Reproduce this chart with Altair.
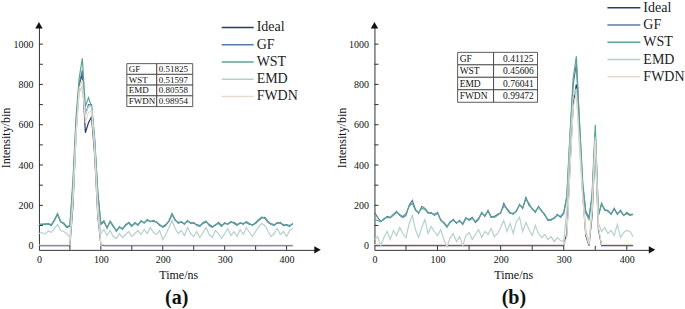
import altair as alt
import pandas as pd

SERIF = "Liberation Serif"

# ---------------- data ----------------
T = list(range(0, 415, 5))  # sample times, ns

SERIES = ["Ideal", "GF", "WST", "EMD", "FWDN"]
COLORS = ["#2e3b68", "#5a78a6", "#5ba597", "#b4d2ca", "#e6dccd"]
WIDTHS = [1.2, 1.2, 1.3, 1.7, 1.8]

# panel (a)
A_IDEAL = [0, 0, 0, 0, 0, 0, 0, 0, 0, 0,
           0, 200, 560, 800, 850, 560, 610, 640, 450, 150,
           5, 0, 0, 0, 0, 0, 0, 0, 0, 0,
           0, 0, 0, 0, 0, 0, 0, 0, 0, 0,
           0, 0, 0, 0, 0, 0, 0, 0, 0, 0,
           0, 0, 0, 0, 0, 0, 0, 0, 0, 0,
           0, 0, 0, 0, 0, 0, 0, 0, 0, 0,
           0, 0, 0, 0, 0, 0, 0, 0, 0, 0,
           0, 0, 0]
A_GF = [100, 104, 108, 106, 100, 125, 155, 118, 108, 90,
        96, 300, 610, 800, 870, 650, 700, 700, 530, 270,
        105, 118, 90, 118, 96, 75, 90, 85, 100, 115,
        100, 110, 105, 120, 115, 125, 122, 120, 118, 100,
        95, 105, 120, 155, 125, 115, 115, 110, 120, 115,
        110, 105, 100, 110, 118, 105, 95, 100, 115, 100,
        110, 108, 115, 115, 105, 110, 110, 115, 105, 104,
        110, 125, 138, 140, 120, 108, 105, 110, 115, 100,
        104, 100, 106]
A_WST = [105, 108, 104, 110, 103, 130, 160, 120, 112, 95,
         100, 330, 640, 830, 930, 690, 735, 690, 520, 260,
         110, 125, 85, 122, 100, 70, 95, 80, 105, 112,
         95, 115, 100, 125, 110, 130, 118, 126, 115, 105,
         90, 100, 125, 160, 130, 110, 120, 105, 125, 110,
         115, 100, 95, 115, 122, 100, 90, 105, 110, 95,
         115, 105, 120, 110, 100, 115, 105, 120, 110, 100,
         115, 130, 142, 135, 115, 105, 100, 115, 110, 105,
         100, 95, 112]
A_EMD = [60, 65, 58, 72, 66, 85, 105, 75, 70, 60,
         40, 260, 560, 760, 790, 650, 690, 690, 500, 200,
         60, 80, 50, 75, 45, 35, 60, 40, 55, 70,
         45, 60, 75, 55, 80, 60, 90, 65, 55, 75,
         30, 55, 90, 125, 85, 60, 75, 50, 90, 60,
         45, 70, 40, 65, 90, 55, 40, 75, 60, 35,
         60, 85, 50, 70, 45, 80, 55, 90, 65, 45,
         70, 95, 110, 100, 70, 45, 60, 85, 55, 70,
         45, 75, 85]
A_FWDN = [3, 3, 3, 3, 3, 3, 3, 3, 3, 3,
          3, 220, 560, 780, 820, 610, 660, 670, 470, 160,
          8, 3, 3, 3, 3, 3, 3, 3, 3, 3,
          3, 3, 3, 3, 3, 3, 3, 3, 3, 3,
          3, 3, 3, 3, 3, 3, 3, 3, 3, 3,
          3, 3, 3, 3, 3, 3, 3, 3, 3, 3,
          3, 3, 3, 3, 3, 3, 3, 3, 3, 3,
          3, 3, 3, 3, 3, 3, 3, 3, 3, 3,
          3, 3, 3]

# panel (b)
B_IDEAL = [0, 0, 0, 0, 0, 0, 0, 0, 0, 0,
           0, 0, 0, 0, 0, 0, 0, 0, 0, 0,
           0, 0, 0, 0, 0, 0, 0, 0, 0, 0,
           0, 0, 0, 0, 0, 0, 0, 0, 0, 0,
           0, 0, 0, 0, 0, 0, 0, 0, 0, 0,
           0, 0, 0, 0, 0, 0, 0, 0, 0, 0,
           0, 60, 400, 700, 800, 560, 260, 50, 0, 150,
           500, 80, 0, 0, 0, 0, 0, 0, 0, 0,
           0, 0, 0]
B_GF = [165, 140, 120, 130, 145, 140, 155, 170, 150, 140,
        150, 200, 225, 180, 160, 195, 185, 165, 160, 155,
        165, 125, 115, 95, 115, 130, 110, 125, 105, 135,
        130, 140, 115, 130, 165, 145, 175, 140, 145, 155,
        160, 210, 180, 160, 160, 170, 205, 185, 240, 200,
        185, 165, 195, 170, 155, 125, 130, 135, 155, 140,
        160, 240, 540, 800, 900, 600, 300, 170, 140, 240,
        560, 150, 210, 175, 175, 155, 185, 155, 175, 150,
        160, 150, 155]
B_WST = [130, 125, 118, 135, 140, 138, 150, 165, 155, 145,
         160, 195, 210, 175, 165, 185, 180, 160, 165, 150,
         160, 130, 110, 90, 120, 125, 115, 120, 110, 140,
         125, 135, 120, 135, 160, 150, 170, 145, 140, 150,
         165, 195, 185, 165, 155, 175, 200, 190, 230, 210,
         180, 170, 190, 175, 150, 130, 125, 140, 150, 145,
         165, 250, 560, 830, 940, 620, 320, 160, 130, 260,
         600, 150, 205, 180, 170, 160, 180, 160, 170, 150,
         165, 155, 155]
B_EMD = [30, 45, 0, 40, 70, 30, 75, 50, 90, 60,
         40, 110, 150, 80, 40, 90, 130, 60, 95, 70,
         50, 80, 30, -5, 40, 60, 20, 45, 0, 50,
         65, 30, 55, 80, 40, 70, 55, 85, 45, 60,
         90, 125, 70, 110, 60, 120, 140, 70, 115, 80,
         50, 100, 60, 40, 55, 30, 45, 20, 40, 25,
         20, 180, 520, 740, 780, 480, 250, 80, 10, 200,
         540, 110, 70, 90, 60, 75, 50, 105, 40, 65,
         75, 70, 45]
B_FWDN = [5, 5, 5, 5, 5, 5, 5, 5, 5, 5,
          5, 5, 5, 5, 5, 5, 5, 5, 5, 5,
          5, 5, 5, 5, 5, 5, 5, 5, 5, 5,
          5, 5, 5, 5, 5, 5, 5, 5, 5, 5,
          5, 5, 5, 5, 5, 5, 5, 5, 5, 5,
          5, 5, 5, 5, 5, 5, 5, 5, 5, 5,
          5, 40, 380, 680, 760, 520, 240, 60, 5, 170,
          520, 90, 5, 5, 5, 5, 5, 5, 5, 5,
          5, 5, 5]

TABLE_NAMES = ["GF", "WST", "EMD", "FWDN"]
TABLE_A = ["0.51825", "0.51597", "0.80558", "0.98954"]
TABLE_B = ["0.41125", "0.45606", "0.76041", "0.99472"]

X_LABELS = [0, 100, 200, 300, 400]
Y_LABELS = [0, 200, 400, 600, 800, 1000]
X_MINOR = [50, 100, 150, 200, 250, 300, 350, 400]
Y_MINOR = [100, 200, 300, 400, 500, 600, 700, 800, 900, 1000]

CAPTIONS = ["(a)", "(b)"]

# ---------------- layout constants ----------------
YDOM = [-21, 1094]
H = 225


def build_panel(series_vals, xdom, W, tvals, tab, leg, caption, cap_xy):
    def px2t(px):
        return xdom[0] + px / W * (xdom[1] - xdom[0])

    def py2v(py):
        return YDOM[1] - py / H * (YDOM[1] - YDOM[0])

    rows = []
    for name, vals in zip(SERIES, series_vals):
        for t, v in zip(T, vals):
            rows.append({"t": t, "v": v, "s": name})
    df = pd.DataFrame(rows)

    xs = alt.Scale(domain=xdom, nice=False, zero=False)
    ys = alt.Scale(domain=YDOM, nice=False, zero=False)
    cs = alt.Scale(domain=SERIES, range=COLORS)
    ws = alt.Scale(domain=SERIES, range=WIDTHS)

    xaxis = alt.Axis(values=X_LABELS, format="d", title="Time/ns", titleFont=SERIF,
                     titleFontSize=12, titleFontWeight="normal", titleColor="#111",
                     labelFont=SERIF, labelFontSize=10, labelColor="#111", ticks=False,
                     tickSize=0, labelPadding=5, titlePadding=5, domainColor="#333",
                     grid=False, labelFlush=False)
    yaxis = alt.Axis(values=Y_LABELS, format="d", title="Intensity/bin", titleFont=SERIF,
                     titleFontSize=12, titleFontWeight="normal", titleColor="#111",
                     labelFont=SERIF, labelFontSize=10, labelColor="#111", ticks=False,
                     tickSize=0, labelPadding=6, titlePadding=0, domainColor="#333",
                     grid=False)

    def X(f):
        return alt.X(f, scale=xs, axis=xaxis)

    def Y(f):
        return alt.Y(f, scale=ys, axis=yaxis)

    lines = alt.Chart(df).mark_line(interpolate="linear").encode(
        x=X("t:Q"),
        y=Y("v:Q"),
        color=alt.Color("s:N", scale=cs, legend=None, sort=SERIES),
        strokeWidth=alt.StrokeWidth("s:N", scale=ws, legend=None),
        order=alt.Order("t:Q"),
    )

    # inward minor ticks
    xt = pd.DataFrame({"t": X_MINOR, "y0": YDOM[0], "y1": py2v(H - 4)})
    xticks = alt.Chart(xt).mark_rule(color="#333", strokeWidth=1).encode(
        x=X("t:Q"), y=Y("y0:Q"), y2="y1:Q")
    yt = pd.DataFrame({"v": Y_MINOR, "x0": xdom[0], "x1": px2t(4)})
    yticks = alt.Chart(yt).mark_rule(color="#333", strokeWidth=1).encode(
        y=Y("v:Q"), x=X("x0:Q"), x2="x1:Q")

    # axis arrows
    arr_r = alt.Chart(pd.DataFrame({"t": [xdom[1]], "v": [YDOM[0]]})).mark_point(
        shape="triangle-right", filled=True, size=55, color="#111", opacity=1).encode(
        x=X("t:Q"), y=Y("v:Q"))
    arr_u = alt.Chart(pd.DataFrame({"t": [xdom[0]], "v": [YDOM[1]]})).mark_point(
        shape="triangle-up", filled=True, size=55, color="#111", opacity=1).encode(
        x=X("t:Q"), y=Y("v:Q"))

    # table
    x0, xsplit, x1, ytop, rh, vx, tfs = tab
    cells = []
    texts = []
    for i, (n, val) in enumerate(zip(TABLE_NAMES, tvals)):
        yt0 = ytop + i * rh
        yt1 = yt0 + rh
        cells.append({"a": px2t(x0), "b": px2t(xsplit), "c": py2v(yt0), "d": py2v(yt1)})
        cells.append({"a": px2t(xsplit), "b": px2t(x1), "c": py2v(yt0), "d": py2v(yt1)})
        texts.append({"t": px2t(x0 + 2), "v": py2v(yt0 + rh / 2), "txt": n})
        texts.append({"t": px2t(xsplit + vx), "v": py2v(yt0 + rh / 2), "txt": val})
    rect = alt.Chart(pd.DataFrame(cells)).mark_rect(
        fill="white", stroke="#333", strokeWidth=0.8).encode(
        x=X("a:Q"), x2="b:Q", y=Y("c:Q"), y2="d:Q")
    ttext = alt.Chart(pd.DataFrame(texts)).mark_text(
        font=SERIF, fontSize=tfs, align="left", baseline="middle", color="#111").encode(
        x=X("t:Q"), y=Y("v:Q"), text="txt:N")

    # legend
    lx0, lx1, ltx, ly0, lstep = leg
    lrows = []
    for i, n in enumerate(SERIES):
        yy = py2v(ly0 + i * lstep)
        lrows.append({"s": n, "a": px2t(lx0), "b": px2t(lx1), "tx": px2t(ltx), "v": yy})
    ldf = pd.DataFrame(lrows)
    lrule = alt.Chart(ldf).mark_rule(strokeWidth=1.5).encode(
        x=X("a:Q"), x2="b:Q", y=Y("v:Q"),
        color=alt.Color("s:N", scale=cs, legend=None))
    ltext = alt.Chart(ldf).mark_text(font=SERIF, fontSize=14, align="left",
                                      baseline="middle", color="#222").encode(
        x=X("tx:Q"), y=Y("v:Q"), text="s:N")

    cap = alt.Chart(pd.DataFrame({"c": [caption]})).mark_text(
        font=SERIF, fontSize=20, fontWeight="bold", color="#111", baseline="middle").encode(
        x=alt.value(cap_xy[0]), y=alt.value(cap_xy[1]), text="c:N")

    return alt.layer(lines, xticks, yticks, arr_r, arr_u, rect, ttext, lrule, ltext, cap).properties(
        width=W, height=H)


left = build_panel([A_IDEAL, A_GF, A_WST, A_EMD, A_FWDN], [0, 450], 279, TABLE_A,
                   (88, 118, 154, 38.5, 10.75, 2, 9),
                   (183, 215, 218, 2.2, 17.3), CAPTIONS[0], (138, 273.5))
right = build_panel([B_IDEAL, B_GF, B_WST, B_EMD, B_FWDN], [0, 440], 278, TABLE_B,
                    (83.3, 119.3, 163.3, 27.2, 12.5, 9.5, 9.5),
                    (233.3, 266.3, 269.3, -17.5, 17.3), CAPTIONS[1], (139.6, 273.5))

chart = alt.hconcat(left, right, spacing=57, bounds="flush").resolve_scale(
    x="independent", y="independent").properties(
    padding={"left": 0, "top": 0, "right": 0, "bottom": 0}).configure_view(
    stroke=None).configure_axis(labelFont=SERIF, titleFont=SERIF)

chart.save("out.html", embed_options={"renderer": "svg", "actions": False})
